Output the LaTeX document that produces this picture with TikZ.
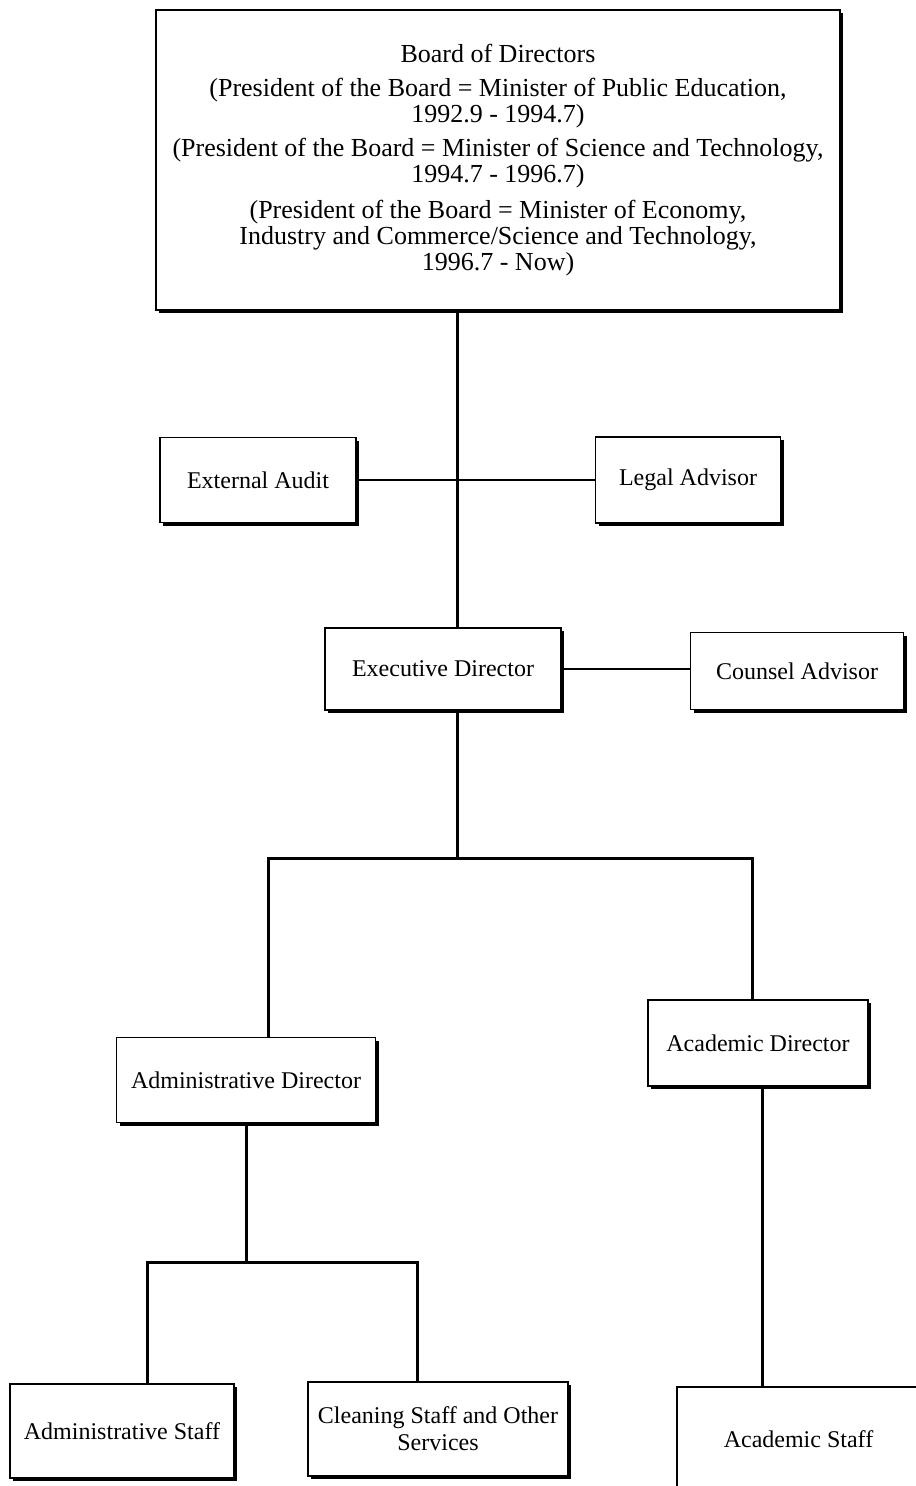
\documentclass[tikz,border=0pt]{standalone}
\usepackage{fontspec}
\setmainfont{Liberation Serif}
\usetikzlibrary{shadows}

\begin{document}
\begin{tikzpicture}[x=0.5pt,y=-0.5pt,font=\fontsize{12}{13.5}\selectfont]
  \tikzstyle{box}=[draw,line width=0.8pt,fill=white,align=center,inner sep=2pt,
    drop shadow={shadow xshift=1.5pt,shadow yshift=-1.5pt,fill=black,opacity=1}]
  \tikzstyle{stem}=[line width=1.5pt]
  \tikzstyle{link}=[line width=0.6pt]
  \useasboundingbox (0,0) rectangle (915,1486);

  \node[box,minimum width=342pt,minimum height=150pt,font=\fontsize{13}{13}\selectfont] (Board) at (498,160)
    {Board of Directors\\[4pt]
     (President of the Board = Minister of Public Education,\\ 1992.9 - 1994.7)\\[4pt]
     (President of the Board = Minister of Science and Technology,\\ 1994.7 - 1996.7)\\[5pt]
     (President of the Board = Minister of Economy,\\ Industry and Commerce/Science and Technology,\\ 1996.7 - Now)};
  \node[box,minimum width=98pt,minimum height=42.5pt]    (Audit)    at (258,480)    {External Audit};
  \node[box,minimum width=92.5pt,minimum height=43pt]    (Legal)    at (688,480)    {Legal Advisor};
  \node[box,minimum width=118pt,minimum height=41pt]     (Exec)     at (443,669)    {Executive Director};
  \node[box,minimum width=106.5pt,minimum height=38.5pt] (Counsel)  at (797,671)    {Counsel Advisor};
  \node[box,minimum width=129.5pt,minimum height=42.5pt] (AdmDir)   at (246,1080)   {Administrative Director};
  \node[box,minimum width=110pt,minimum height=43pt]     (AcaDir)   at (758,1043)   {Academic Director};
  \node[box,minimum width=112pt,minimum height=47pt]     (AdmStaff) at (122,1431)   {Administrative Staff};
  \node[box,minimum width=130pt,minimum height=47pt]     (Clean)    at (438,1429)   {Cleaning Staff and Other\\ Services};
  \node[box,minimum width=121.5pt,minimum height=52.5pt] (AcaStaff) at (798.5,1439.5) {Academic Staff};

  \coordinate (T)  at (457,0);
  \coordinate (J1) at (457,858);
  \coordinate (L1) at (268,0);
  \coordinate (R1) at (752,0);
  \coordinate (J2) at (246,1262);
  \coordinate (L2) at (147,0);
  \coordinate (R2) at (417,0);
  \coordinate (R3) at (762,0);

  \draw[stem] (Board.south -| T) -- (Exec.north -| T);
  \draw[link] (Audit.east) -- (Legal.west);
  \draw[link] (Exec.east) -- (Exec.east -| Counsel.west);
  \draw[stem] (Exec.south -| T) -- (J1);
  \draw[stem] (AdmDir.north -| L1) |- (J1) -| (AcaDir.north -| R1);
  \draw[stem] (AdmDir.south) -- (J2);
  \draw[stem] (AdmStaff.north -| L2) |- (J2) -| (Clean.north -| R2);
  \draw[stem] (AcaDir.south -| R3) -- (AcaStaff.north -| R3);
\end{tikzpicture}
\end{document}
